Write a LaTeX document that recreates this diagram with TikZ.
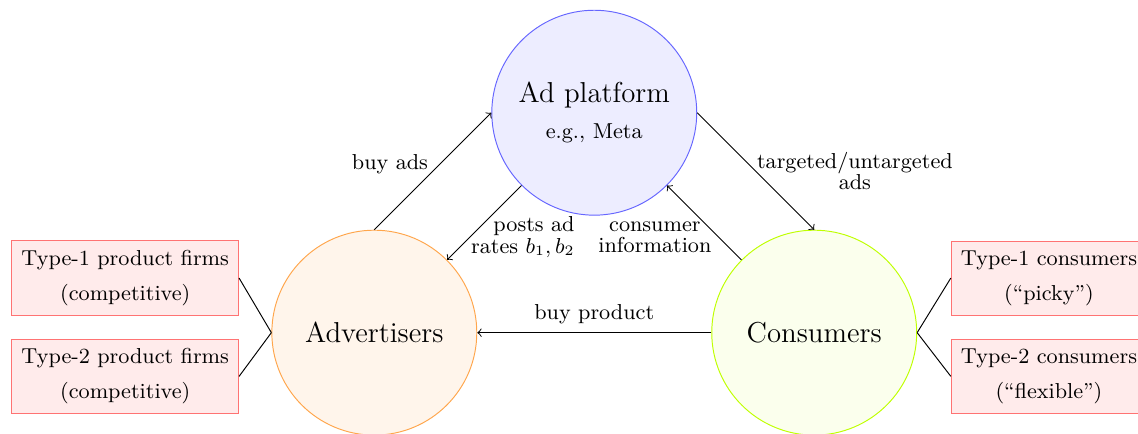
\documentclass[tikz,border=0pt]{standalone}
\usepackage{amsmath,amssymb}
\usepackage{xcolor}
\usepackage{tikz}
\usetikzlibrary{positioning,calc}
\usetikzlibrary{arrows}
\newcommand{\lblfont}{\small\baselineskip=9pt\relax}
\pgfkeys{tikz/party/.style={circle,draw,minimum size=3cm,font=\large,align=center}}
\pgfkeys{tikz/typebox/.style={rectangle,draw=red!55,fill=red!8,font=\small,align=center,inner sep=4pt}}
\pgfkeys{tikz/lbl/.style={font=\lblfont,align=center}}

\begin{document}
\begin{tikzpicture}
\useasboundingbox (-8.70,-4.70) rectangle (7.96,1.65);
%   the three sides of the market
 \node[party,draw=blue!60,fill=blue!7] (plat) at (0,0) {Ad platform\\[1pt]{\small e.g., Meta}};
  \node[party,draw=orange!70,fill=orange!8] (adv) at (-3.22,-3.22) {Advertisers};
  \node[party,draw=lime,fill=lime!7] (cons) at (3.22,-3.22) {Consumers};
%   types
  \node[typebox,anchor=east] (f1) at (-5.2,-2.42) {Type-1 product firms\\[3.5pt](competitive)};
  \node[typebox,anchor=east] (f2) at (-5.2,-3.86) {Type-2 product firms\\[3.5pt](competitive)};
  \node[typebox,anchor=west] (c1) at (5.22,-2.42) {Type-1 consumers\\[3.5pt](``picky'')};
  \node[typebox,anchor=west] (c2) at (5.22,-3.86) {Type-2 consumers\\[3.5pt](``flexible'')};
  \draw (f1.east) -- (adv.west);
  \draw (f2.east) -- (adv.west);
  \draw (cons.east) -- (c1.west);
  \draw (cons.east) -- (c2.west);
%   flows
  \draw [->] (adv.north) -- node[lbl,left,xshift=1.5pt,yshift=3pt]  {buy ads} (plat.west);
  \draw [->] (plat.east) -- node[lbl,right,xshift=-3pt]  {targeted/untargeted\\ads} (cons.north);
  \draw [->] (plat.south west) -- node[lbl,align=right,right,xshift=-9pt,yshift=-6pt]  {posts ad\\rates $b_1,b_2$} (adv.north east);
  \draw [->] (cons.north west) -- node[lbl,left,xshift=6.5pt,yshift=-6pt]  {consumer\\information} (plat.south east);
  \draw [->] (cons.west) -- node[lbl,above]  {buy product} (adv.east);

\end{tikzpicture}
\end{document}
